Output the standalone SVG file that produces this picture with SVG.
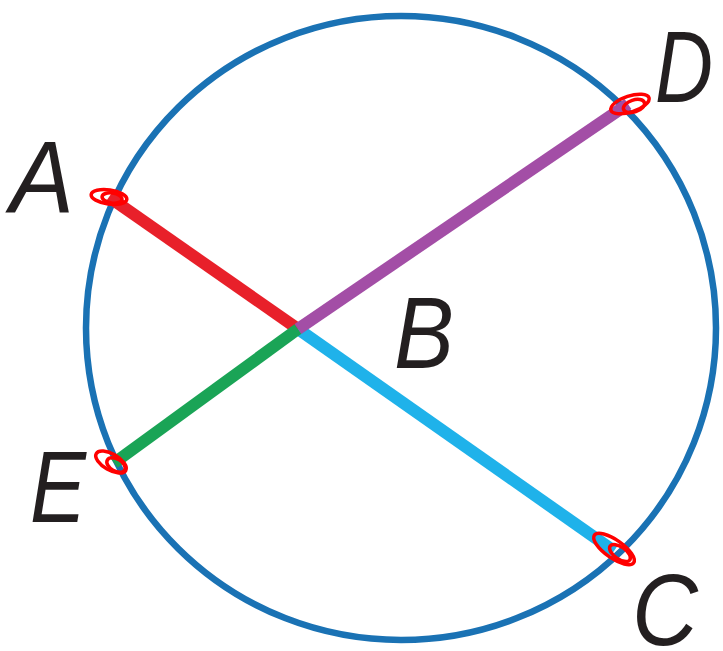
<svg xmlns="http://www.w3.org/2000/svg" width="723" height="651" viewBox="0 0 723 651">
<style>
.lbl{font-family:"Liberation Sans",Arial,sans-serif;font-style:italic;font-size:102px;fill:#231f20}
.seg{stroke-width:12;stroke-linecap:butt;fill:none}
.mark{fill:none;stroke:#ff0000;stroke-width:3.5}
</style>
<rect width="723" height="651" fill="#ffffff"/>
<g id="circle">
<ellipse cx="401" cy="328" rx="315" ry="312" fill="none" stroke="#1a72b4" stroke-width="6.5"/>
</g>
<g id="connectors">
<line class="seg" x1="109" y1="197" x2="298" y2="329" stroke="#e8202a"/>
<line class="seg" x1="298" y1="329" x2="614" y2="551" stroke="#1fb2ea"/>
<line class="seg" x1="114" y1="463" x2="298" y2="329" stroke="#1aa456"/>
<line class="seg" x1="298" y1="329" x2="628" y2="104" stroke="#a34ea6"/>
</g>
<g id="A">
<ellipse class="mark" cx="109" cy="197" rx="18" ry="7" transform="rotate(8 109 197)"/>
<ellipse class="mark" cx="112" cy="198" rx="10" ry="5" transform="rotate(8 112 198)"/>
<text class="lbl" x="10" y="213" textLength="64" lengthAdjust="spacingAndGlyphs">A</text>
</g>
<g id="D">
<ellipse class="mark" cx="630" cy="104" rx="20" ry="8" transform="rotate(-18 630 104)"/>
<ellipse class="mark" cx="634" cy="106" rx="11" ry="6" transform="rotate(-18 634 106)"/>
<text class="lbl" x="655" y="102" textLength="58" lengthAdjust="spacingAndGlyphs">D</text>
</g>
<g id="E">
<ellipse class="mark" cx="111" cy="462" rx="17" ry="8" transform="rotate(30 111 462)"/>
<ellipse class="mark" cx="116" cy="465" rx="10" ry="6" transform="rotate(30 116 465)"/>
<text class="lbl" x="30" y="522" textLength="56" lengthAdjust="spacingAndGlyphs">E</text>
</g>
<g id="B">
<text class="lbl" x="394" y="368" textLength="60" lengthAdjust="spacingAndGlyphs">B</text>
</g>
<g id="C">
<ellipse class="mark" cx="614" cy="549" rx="24" ry="9" transform="rotate(35 614 549)"/>
<ellipse class="mark" cx="620" cy="553" rx="12" ry="6" transform="rotate(35 620 553)"/>
<text class="lbl" x="632" y="645" textLength="66" lengthAdjust="spacingAndGlyphs">C</text>
</g>
</svg>
